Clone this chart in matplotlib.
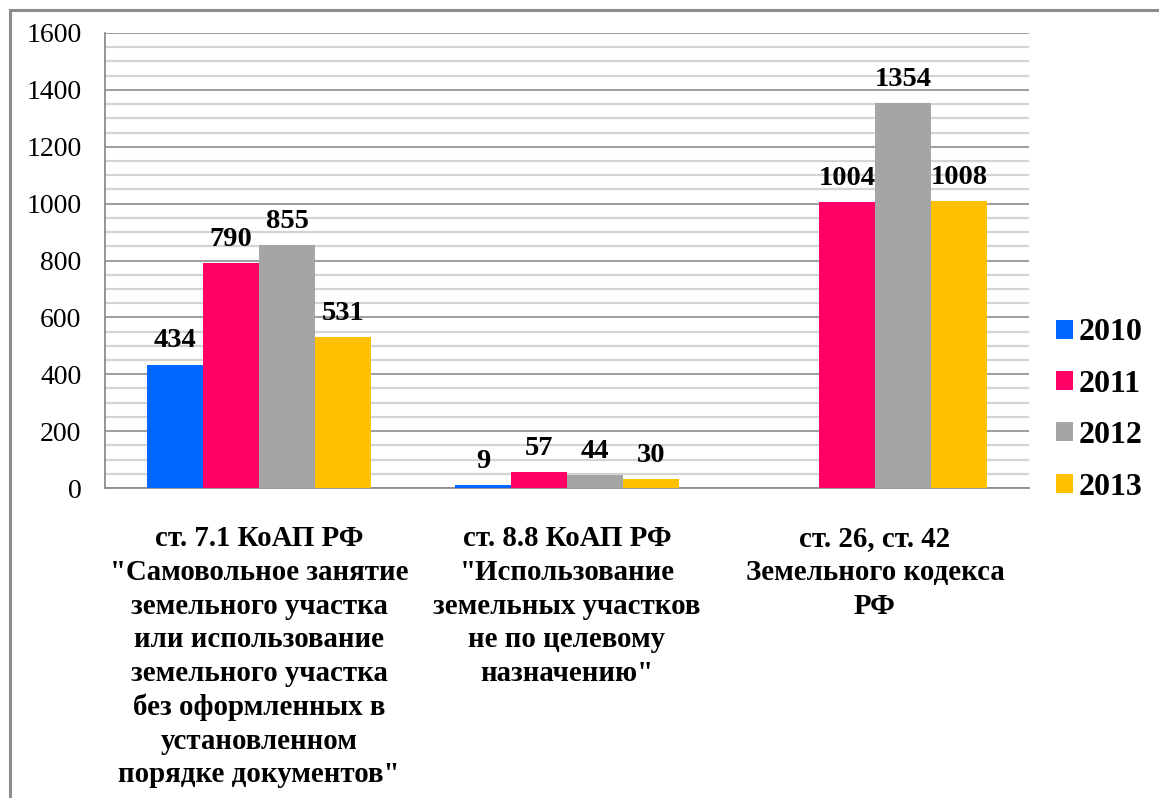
import numpy as np
import matplotlib
matplotlib.use("Agg")
import matplotlib.pyplot as plt
from matplotlib.lines import Line2D
from matplotlib.ticker import MultipleLocator

plt.rcParams['font.family'] = ['Liberation Serif', 'DejaVu Serif']

categories = [
    'ст. 7.1 КоАП РФ\n"Самовольное занятие\nземельного участка\nили использование\nземельного участка\nбез оформленных в\nустановленном\nпорядке документов"',
    'ст. 8.8 КоАП РФ\n"Использование\nземельных участков\nне по целевому\nназначению"',
    'ст. 26, ст. 42\nЗемельного кодекса\nРФ',
]
years = ['2010', '2011', '2012', '2013']
v2010 = [434, 9, np.nan]
v2011 = [790, 57, 1004]
v2012 = [855, 44, 1354]
v2013 = [531, 30, 1008]
series = [v2010, v2011, v2012, v2013]
colors = ['#0066FF', '#FF0066', '#A5A5A5', '#FFC000']

fig = plt.figure(figsize=(11.59, 7.98), dpi=100)
ax = fig.add_axes([105 / 1159, 1 - 488 / 798, (1029 - 105) / 1159, (488 - 33) / 798])

x = np.arange(len(categories))
width = 0.182
for i, (vals, col, yr) in enumerate(zip(series, colors, years)):
    pos = x + (i - 1.5) * width
    ax.bar(pos, np.nan_to_num(vals), width, color=col, label=yr, zorder=3)
    for xp, v in zip(pos, vals):
        if np.isnan(v):
            continue
        ax.annotate(f'{int(v)}', (xp, v), xytext=(0, 8), textcoords='offset points',
                    ha='center', va='bottom', fontsize=20.5, fontweight='bold', zorder=4)

ax.set_xlim(-0.5, 2.5)
ax.set_ylim(0, 1600)
ax.yaxis.set_major_locator(MultipleLocator(200))
ax.yaxis.set_minor_locator(MultipleLocator(50))
ax.grid(which='minor', axis='y', color='#d4d4d4', linewidth=1.6, zorder=0)
ax.grid(which='major', axis='y', color='#8c8c8c', linewidth=1.2, zorder=1)
ax.set_axisbelow(True)

for s in ['top', 'right']:
    ax.spines[s].set_visible(False)
for s in ['left', 'bottom']:
    ax.spines[s].set_color('#8c8c8c')
    ax.spines[s].set_linewidth(1.3)

ax.tick_params(axis='y', which='both', length=0, pad=17, labelsize=20)
ax.tick_params(axis='x', length=0, pad=27)
ax.set_xticks(x)
ax.set_xticklabels(categories, fontsize=20.8, fontweight='bold',
                   multialignment='center', linespacing=1.315)

fig.legend(loc='center left', bbox_to_anchor=(1043 / 1159, 1 - 410 / 798),
           frameon=False, prop={'weight': 'bold', 'size': 23},
           handlelength=0.53, handleheight=0.53, handletextpad=0.19,
           labelspacing=0.7, borderaxespad=0)

# figure frame (top and left edges)
fig.add_artist(Line2D([10 / 1159, 10 / 1159], [0, 1 - 10 / 798], transform=fig.transFigure,
                      color='#8c8c8c', linewidth=2.2))
fig.add_artist(Line2D([10 / 1159, 1], [1 - 10 / 798, 1 - 10 / 798], transform=fig.transFigure,
                      color='#8c8c8c', linewidth=2.2))

fig.savefig('out.png', dpi=100)
